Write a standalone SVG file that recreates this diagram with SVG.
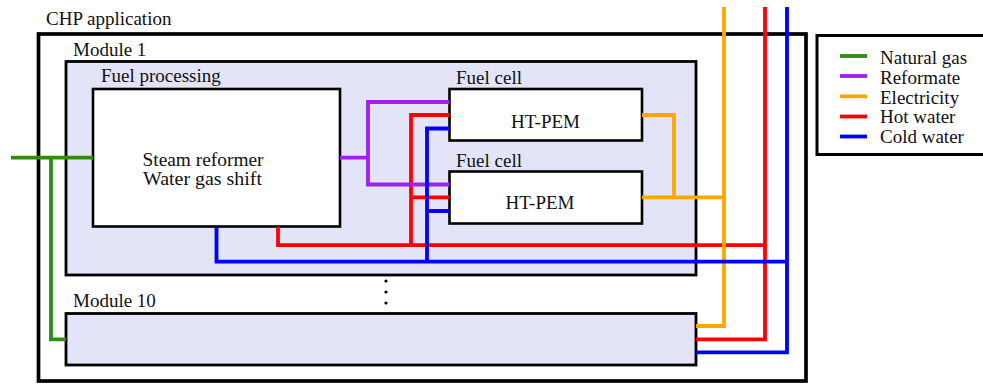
<svg xmlns="http://www.w3.org/2000/svg" width="983" height="386" viewBox="0 0 983 386" font-family="'Liberation Serif', 'Times New Roman', 'DejaVu Serif', serif">
<style>
text{font-family:'Liberation Serif','Times New Roman','DejaVu Serif',serif;font-size:19px;fill:#111}
.c{text-anchor:middle}
.box{fill:#fff;stroke:#000;stroke-width:2.6}
.mod{fill:#e4e4f8;stroke:#000;stroke-width:2.8}
.w{fill:none;stroke-width:3.8;stroke-linejoin:miter;stroke-linecap:butt}
.g{stroke:#2e8b14}.p{stroke:#a020f0}.o{stroke:#ffa500}.r{stroke:#ff0000}.b{stroke:#0000ff}
</style>
<rect width="983" height="386" fill="#fff"/>
<g id="chp">
<rect x="38.5" y="34" width="767.5" height="347" fill="none" stroke="#000" stroke-width="3.7"/>
<text x="46" y="25">CHP application</text>
</g>
<g id="module1">
<rect class="mod" x="66" y="61.5" width="630" height="213.5"/>
<text x="73" y="56">Module 1</text>
</g>
<g id="module10">
<rect class="mod" x="66" y="313.5" width="630" height="51.5"/>
<text x="73" y="306.5">Module 10</text>
</g>
<g id="dots" fill="#000">
<circle cx="386" cy="281" r="1.6"/>
<circle cx="386" cy="292" r="1.6"/>
<circle cx="386" cy="303" r="1.6"/>
</g>
<g id="fuelproc">
<rect class="box" x="93" y="89" width="247" height="137.5"/>
<text x="101" y="82">Fuel processing</text>
<text class="c" x="203" y="165.5" font-size="17.2" textLength="121" lengthAdjust="spacingAndGlyphs">Steam reformer</text>
<text class="c" x="202.5" y="184.5" font-size="17.2" textLength="119" lengthAdjust="spacingAndGlyphs">Water gas shift</text>
</g>
<g id="fuelcell1">
<rect class="box" x="449.5" y="89" width="192.5" height="51.5"/>
<text x="456" y="83.5">Fuel cell</text>
<text class="c" x="545.5" y="128">HT-PEM</text>
</g>
<g id="fuelcell2">
<rect class="box" x="449.5" y="171.5" width="192.5" height="52"/>
<text x="456" y="166.5">Fuel cell</text>
<text class="c" x="540" y="209">HT-PEM</text>
</g>
<g id="connectors">
<path class="w g" d="M11 157.7H93M51 157.7V339.3H66"/>
<path class="w r" d="M278 226.5V245.2H765M765 7V339.3H696M411 245.2V115H449.5M411 197.3H449.5"/>
<path class="w p" d="M340 157.7H368M449.5 102H368V184.5H449.5"/>
<path class="w o" d="M642 115H674V197.3M642 197.3H724M724 7V326H696"/>
<path class="w b" d="M216.5 226.5V261.7H787M787 7V352.3H696M427 261.7V128.5H449.5M427 211H449.5"/>
</g>
<g id="legend">
<rect x="817" y="35.5" width="170" height="119" fill="#fff" stroke="#000" stroke-width="3"/>
<path class="w g" d="M840 56H867"/>
<path class="w p" d="M840 76H867"/>
<path class="w o" d="M840 96.3H867"/>
<path class="w r" d="M840 116.5H867"/>
<path class="w b" d="M840 136.5H867"/>
<text x="880" y="64.3">Natural gas</text>
<text x="880" y="84">Reformate</text>
<text x="880" y="103.6">Electricity</text>
<text x="880" y="123.2">Hot water</text>
<text x="880" y="142.8">Cold water</text>
</g>
</svg>
